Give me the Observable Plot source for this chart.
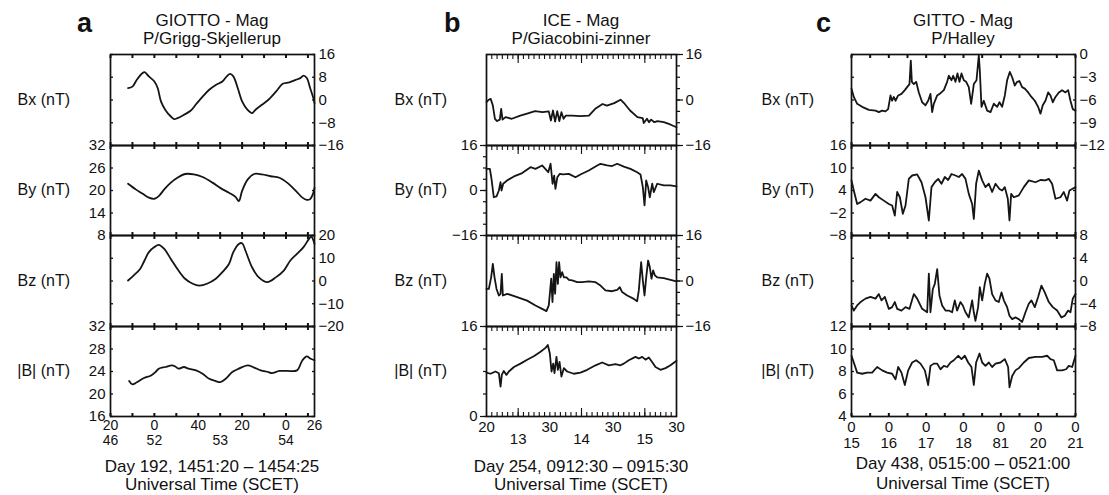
<!DOCTYPE html>
<html><head><meta charset="utf-8">
<script src="https://cdn.jsdelivr.net/npm/d3@7"></script>
<script src="https://cdn.jsdelivr.net/npm/@observablehq/plot@0.6"></script>
<style>
body{margin:0;background:#fff;}
#fig{position:relative;width:1109px;height:495px;overflow:hidden;font-family:"Liberation Sans",Arial,Helvetica,sans-serif;color:#111;}
.t{position:absolute;white-space:nowrap;}
.ttl{font-size:17px;line-height:18px;text-align:center;width:300px;}
.let{font-size:27px;line-height:27px;font-weight:bold;}
.ylab{font-size:16px;line-height:16px;text-align:right;width:90px;}
.cap{font-size:17px;line-height:18px;text-align:center;width:320px;}
</style></head>
<body><div id="fig"></div>
<script>
// ---------- Panel a : GIOTTO, P/Grigg-Skjellerup (t = seconds after 14:51:00) ----------
const aBxT = [36,40,44,49,51,55,60,63,66,70,75,78,81,87,93,98,104,110,116,122,126,129,132,136,140,145,149,152,158,164,171,177,183,189,193,196,199,202,205,206];
const aBxV = [4.2,4.7,7.1,9.4,9.8,8.3,6.5,4.2,-0.5,-3.5,-5.8,-6.7,-6.4,-5.2,-3.8,-1.5,1.2,3.6,5.3,6.5,8.3,9.2,8.3,4.2,-0.5,-3.5,-4.6,-3.5,-1.7,0.1,3.0,5.7,6.2,7.1,7.7,8.6,7.7,4.2,0.6,-1.1];
const aByT = [36,43,49,55,60,64,69,75,81,88,96,104,113,120,128,134,137,140,145,151,158,166,174,181,189,195,199,202,205,206];
const aByV = [21.8,20.3,19.2,18.1,17.8,18.5,20.3,22.1,23.4,24.4,24.3,23.6,22.1,20.7,19.4,18.3,17.2,19.9,22.9,24.4,24.3,23.8,23.4,22.1,19.9,18.1,17.5,17.7,19.4,20.7];
const aBzT = [36,41,47,51,55,60,64,69,75,81,88,95,101,108,116,122,128,132,137,140,143,149,155,163,171,178,184,190,196,201,203,206];
const aBzV = [0.2,2.4,5.3,9.0,12.7,14.9,15.9,14.1,9.7,5.3,1.0,-1.2,-2.0,-1.2,1.0,3.9,7.5,12.7,16.3,16.6,13.4,6.1,1.7,-0.5,1.7,4.6,9.0,11.9,14.9,18.5,19.5,16.3];
const aBmT = [37,40,44,50,57,61,64,70,76,79,82,87,91,98,104,110,116,120,125,131,137,145,151,157,164,167,174,181,190,195,199,202,206];
const aBmV = [22.3,21.7,22.1,22.8,23.3,23.9,24.5,24.8,25.1,24.9,24.5,24.8,24.5,24.2,23.6,22.7,22.3,22.1,22.7,23.9,24.5,25.1,24.7,24.2,23.9,23.7,24.1,24.1,24.2,26.0,26.7,26.3,26.0];

// ---------- Panel b : ICE, P/Giacobini-Zinner (t = seconds after 09:12:30) ----------
const bBxT = [0,2,4,6,8,10,12.6,13.9,15.2,18,24,32,40,46,53,59,61,63,65,67,69,71,73,75,81,89,97,103,110,114,121,127,131,136,143,148,149,152,154,156,159,162,168,174,180];
const bBxV = [-0.8,0.1,0.4,-1.9,-6.6,-7.4,-6.9,-3.1,-6.9,-6.0,-6.6,-5.5,-4.6,-3.9,-4.3,-4.0,-7.2,-3.7,-7.6,-3.9,-7.4,-4.3,-6.6,-5.5,-5.5,-5.7,-5.5,-3.1,-1.4,-2.0,-1.1,0.1,-1.4,-3.7,-6.0,-6.4,-8.1,-6.6,-7.8,-6.9,-7.8,-7.4,-7.8,-8.6,-9.6];
const bByT = [0,3.2,4.7,6.9,9.5,11.7,13.3,14.2,15.8,19.6,26,33.8,41.7,46.4,52.7,58.5,60.7,62.6,64.1,65.3,67.1,69.3,72.5,78,84.3,89,96.9,103.3,108,114.3,119,123.8,130.1,136.4,142.7,145.9,148.1,149.7,151.3,153.1,154.7,157,158.5,161.7,168,174.3,180];
const bByV = [7.7,7.7,4.2,-2.4,-2.1,0,3.0,0,2.4,3.6,5.0,6.2,8.3,7.7,8.9,6.5,9.5,2.4,5.3,0.6,4.7,5.9,5.7,5.9,4.7,5.7,7.1,8.5,9.5,8.9,8.7,9.5,8.5,7.7,6.5,5.7,1.2,-5.3,3.6,1.2,-2.4,2.4,-0.6,2.4,1.8,1.8,1.5];
const bBzT = [0,2.2,4.4,6,7.6,9.5,11.7,13.3,14.5,15.5,19.6,29,38.5,46.4,52.7,56.8,59,61.3,62.5,63.8,65,66.3,67.6,68.8,70.1,71.7,73.3,75.8,78,81.2,85.9,90.6,96.9,103.3,108,112.7,119,123.8,126.3,128.5,133.3,139.6,142.7,144.3,146.5,148.1,149.7,151.3,153.1,154.7,156.3,157.9,159.5,161.7,168,174.3,180];
const bBzV = [-2.8,-2.8,1.3,6.0,1.3,-2.8,-5.1,-4.5,2.5,-5.1,-4.5,-5.7,-6.9,-8.6,-9.8,-10.6,-8.6,0.8,-7.4,2.5,-4.5,6.6,-1.0,6.6,1.3,3.1,1.3,1.3,0.4,0.2,-0.4,-0.4,-0.1,-0.4,-1.6,-3.3,-3.6,-3.1,-2.2,-3.9,-5.1,-6.3,-7.1,-3.3,6.6,0.2,-5.1,1.3,7.2,4.9,0.8,3.7,2.0,1.3,1.0,0.4,-0.1];
const bBmT = [0,3.8,8.5,11.7,13.3,14.5,16.4,18.9,21.2,26,32.2,38.5,44.8,51.2,55.9,58.1,60,61.6,63.2,64.4,66.3,67.6,69.2,71,73.3,76.4,82.7,89,95.4,103.3,109.6,115.9,122.2,126.9,130.1,134.8,141.1,144.3,147.5,150.6,153.8,156.9,160.1,164.8,169.6,174.3,180];
const bBmV = [7.8,7.6,8.0,7.7,5.3,7.4,8.1,7.4,8.0,8.8,9.4,10.1,10.7,11.5,12.2,12.7,11.2,8.0,9.4,7.7,10.6,8.3,9.7,7.1,8.6,8.0,7.6,7.8,8.3,9.1,9.6,9.1,9.3,9.1,9.4,10.0,10.6,10.3,10.6,10.1,10.5,9.7,8.8,8.3,8.6,9.1,9.9];

// ---------- Panel c : GIOTTO, P/Halley (t = seconds after 05:15:00) ----------
const cBxT = [0,3.7,9.1,17.1,27.9,38.6,43.9,49.3,54.6,58.9,62.7,65.3,68,70.7,75,80.3,85.7,89.4,93.2,95.3,97,100.2,103.9,108.2,113.5,118.9,123.2,126.9,129.6,132.3,137.7,143,148.4,153.7,156.4,160.7,163.4,167.1,170.3,173.5,176.8,180.5,184.3,188.5,192.3,196.6,200.9,204.6,206.2,208.9,212.6,218,223.4,228.7,234.1,237.8,242.1,246.4,250.1,254.4,258.2,262.4,266.2,269.9,274.2,278.5,283.9,289.2,294.6,299.9,303.7,307.4,311.7,316,319.8,323.5,327.8,333.2,338.5,343.9,348.2,351.9,355.6,360];
const cBxV = [-4.5,-5.6,-6.5,-6.9,-7.3,-7.4,-7.6,-7.4,-7.5,-7.2,-5.4,-6.1,-5.6,-6.1,-5.4,-5.2,-4.7,-4.3,-3.9,-0.8,-3.6,-3.9,-3.6,-5.0,-6.3,-6.7,-6.1,-5.2,-7.6,-6.5,-5.4,-5.1,-4.7,-3.6,-2.8,-3.4,-2.8,-3.6,-2.5,-3.6,-2.5,-3.4,-3.6,-4.3,-6.5,-3.9,-3.4,-0.1,-2.1,-6.9,-6.1,-7.4,-7.6,-6.5,-6.9,-6.3,-6.9,-5.4,-3.4,-2.3,-3.0,-4.1,-3.6,-3.5,-4.3,-4.5,-5.0,-5.6,-6.1,-6.9,-7.8,-6.7,-6.1,-5.0,-5.4,-6.3,-5.6,-5.0,-4.7,-5.0,-4.7,-6.1,-7.2,-7.4];
const cByT = [0,3.7,9.1,14.5,22.5,30.5,38.6,43.9,52,60,65.3,69.6,73.4,77.7,82.5,86.8,92.1,97.5,105.5,112.5,118.9,124.3,128.5,133.9,139.3,144.6,150,155.3,160.7,167.1,172.5,177.8,183.2,188.5,193.9,196.6,200.3,204.6,210,215.3,220.7,226,231.4,237.8,242.1,246.4,251.2,253.9,256.6,260.8,268.9,276.9,285,295.7,303.7,311.7,317.1,322.4,327.8,335.8,341.2,346.5,350.3,354.6,360];
const cByV = [6.7,4.0,0.4,0.9,1.8,1.3,3.1,2.2,1.3,0.4,0.0,-2.7,3.6,2.2,-2.2,0.0,7.1,8.0,8.3,6.2,2.2,-4.0,4.9,6.2,7.1,5.8,7.6,6.8,8.4,8.0,7.6,8.4,7.1,3.1,0.4,-3.6,5.8,9.3,6.7,4.9,5.8,3.6,5.8,4.4,4.0,4.9,1.8,-4.0,3.1,2.2,2.7,4.9,6.7,6.2,6.8,6.7,7.1,5.8,1.8,2.2,3.6,1.3,4.0,4.4,4.9];
const cBzT = [0,3.7,9.1,14.5,22.5,30.5,38.6,43.9,48.2,53.6,60,65.3,69.6,73.4,80.3,86.8,93.2,100.2,105.5,113.5,121.6,124.3,126.9,130.7,133.9,137.7,141.4,145.7,151,156.4,161.7,166,169.7,175.1,178.9,183.2,188.5,193.9,196.6,199.2,203.5,206.2,210,214.2,218,221.7,226,231.4,236.7,241,244.8,250.1,253.9,258.2,263.5,268.8,274.2,279.6,284.9,289.2,294.6,299.9,305.3,310.6,317.1,323.5,330.5,337.4,342.8,348.1,351.9,355.6,360];
const cBzV = [-4.3,-5.2,-4.3,-3.7,-3.1,-2.8,-3.1,-2.3,-3.4,-2.8,-4.9,-4.6,-3.7,-4.9,-5.2,-4.6,-4.9,-2.3,-3.1,-4.9,-5.5,1.3,-5.5,-1.4,-0.5,2.1,-2.6,-4.3,-5.2,-5.2,-5.5,-3.4,-5.2,-3.7,-4.3,-5.5,-6.4,-3.4,-5.5,-7.0,-4.6,-1.1,-3.4,-0.5,1.3,0.4,-2.3,-3.4,-3.7,-2.0,-3.4,-4.6,-6.1,-6.7,-6.4,-6.7,-7.2,-5.5,-4.0,-3.4,-4.6,-2.8,-0.8,-2.0,-3.7,-4.6,-5.2,-6.4,-6.1,-5.2,-5.5,-3.1,-2.3];
const cBmT = [0,3.7,9.1,17.1,25.1,33.2,41.2,49.3,57.3,65.3,70.7,75,80.3,85.7,91.1,97.5,103.9,110.9,117.9,123.2,126.9,132.3,137.7,143,148.4,153.7,159.1,164.5,171.4,176.8,182.1,187.5,192.8,196.6,200.3,205.7,210,215.3,220.7,226,231.4,239.4,246.4,251.7,253.9,258.2,263.5,268.9,276.9,285,295.7,306.4,314.4,319.8,325.1,330.5,338.5,344.9,349.2,354.6,360];
const cBmV = [9.4,8.8,7.9,7.8,7.9,7.9,8.4,8.1,7.9,7.8,7.3,8.4,7.9,6.8,8.1,8.8,9.0,8.7,8.1,6.8,8.5,8.7,8.7,8.2,8.5,8.4,8.8,9.0,9.4,9.1,9.4,8.8,8.4,6.8,8.8,9.6,8.8,8.5,8.8,8.4,8.7,8.8,9.1,8.4,6.6,7.6,8.1,8.3,8.8,9.2,9.3,9.3,9.4,9.1,9.0,8.1,8.1,8.2,8.5,8.4,9.4];

// ---------- Axis tick values and labels ----------
const compLabels = ["Bx (nT)", "By (nT)", "Bz (nT)", "|B| (nT)"];
const aYTicks = [[16,8,0,-8,-16],[32,26,20,14,8],[20,10,0,-10,-20],[32,28,24,20,16]];
const bYTicks = [[16,0,-16],[16,0,-16],[16,0,-16],[16,0]];
const cYTicks = [[0,-3,-6,-9,-12],[16,10,4,-2,-8],[8,4,0,-4,-8],[12,10,8,6,4]];
const aXRow1 = [20,60,100,140,180,206], aXRow1Lab = ["20","0","40","20","0","26"];
const aXRow2 = [20,60,120,180],         aXRow2Lab = ["46","52","53","54"];
const bXRow1 = [0,60,120,180],          bXRow1Lab = ["20","30","30","30"];
const bXRow2 = [30,90,150],             bXRow2Lab = ["13","14","15"];
const cXRow1 = [0,60,120,180,240,300,360], cXRow1Lab = ["0","0","0","0","0","0","0"];
const cXRow2 = [0,60,120,180,240,300,360], cXRow2Lab = ["15","16","17","18","81","20","21"];

const FONT = '"Liberation Sans", Arial, Helvetica, sans-serif';
const rowY = [54, 145, 235, 326, 416];

const panels = [
  { letter:"a", letterX:77, x0:110, x1:314, titles:["GIOTTO - Mag","P/Grigg-Skjellerup"],
    caps:["Day 192, 1451:20 \u2013 1454:25","Universal Time (SCET)"], capBase:[473,491], labRight:70,
    xDomain:[20,206], minorX:d3.range(20,206,20), majorX:[], xStyle:"cross", yOut:false, curve:"catmull-rom",
    row1:[aXRow1,aXRow1Lab], row2:[aXRow2,aXRow2Lab], dy:[13,28], xfs:14,
    series:[
      {t:aBxT,v:aBxV,domain:[-16,16],labels:aYTicks[0]},
      {t:aByT,v:aByV,domain:[8,32],labels:aYTicks[1]},
      {t:aBzT,v:aBzV,domain:[-20,20],labels:aYTicks[2]},
      {t:aBmT,v:aBmV,domain:[16,32],labels:aYTicks[3]}]},
  { letter:"b", letterX:444, x0:486, x1:676, titles:["ICE - Mag","P/Giacobini-zinner"],
    caps:["Day 254, 0912:30 \u2013 0915:30","Universal Time (SCET)"], capBase:[473,491], labRight:447,
    xDomain:[0,180], minorX:d3.range(0,181,5), majorX:[30,90,150], xStyle:"hang", yOut:true, curve:"linear",
    row1:[bXRow1,bXRow1Lab], row2:[bXRow2,bXRow2Lab], dy:[15,27], xfs:15,
    series:[
      {t:bBxT,v:bBxV,domain:[-16,16],labels:bYTicks[0],minor:d3.range(-16,17,4)},
      {t:bByT,v:bByV,domain:[-16,16],labels:bYTicks[1],minor:d3.range(-16,17,4)},
      {t:bBzT,v:bBzV,domain:[-16,16],labels:bYTicks[2],minor:d3.range(-16,17,4)},
      {t:bBmT,v:bBmV,domain:[0,16],labels:bYTicks[3],minor:d3.range(0,17,4)}]},
  { letter:"c", letterX:816, x0:851, x1:1075, titles:["GITTO - Mag","P/Halley"],
    caps:["Day 438, 0515:00 \u2013 0521:00","Universal Time (SCET)"], capBase:[470,490], labRight:814,
    xDomain:[0,360], minorX:d3.range(0,361,30), majorX:[], xStyle:"cross", yOut:false, curve:"linear",
    row1:[cXRow1,cXRow1Lab], row2:[cXRow2,cXRow2Lab], dy:[15,31], xfs:15,
    series:[
      {t:cBxT,v:cBxV,domain:[-12,0],labels:cYTicks[0]},
      {t:cByT,v:cByV,domain:[-8,16],labels:cYTicks[1]},
      {t:cBzT,v:cBzV,domain:[-8,8],labels:cYTicks[2]},
      {t:cBmT,v:cBmV,domain:[4,12],labels:cYTicks[3]}]}
];

const fig = document.getElementById("fig");
const fmt = d => d < 0 ? "\u2212" + Math.abs(d) : String(d);
const blank = () => "";

function addDiv(cls, text, left, top) {
  const el = document.createElement("div");
  el.className = "t " + cls;
  el.textContent = text;
  el.style.left = left + "px";
  el.style.top = top + "px";
  fig.appendChild(el);
}

function buildRow(p, r) {
  const y0 = rowY[r], y1 = rowY[r + 1];
  const last = r === 3;
  const ML = 50, MR = 50, MT = 10, MB = last ? 45 : 10;
  const W = p.x1 - p.x0, H = y1 - y0;
  const s = p.series[r];
  const side = r % 2 === 0 ? "right" : "left";
  const other = side === "right" ? "left" : "right";
  const n = Math.min(s.t.length, s.v.length);
  const data = s.t.slice(0, n).map((t, i) => ({t, v: s.v[i]}));
  const marks = [];
  if (p.yOut) {
    marks.push(Plot.axisY(s.minor, {anchor: side, tickSize: 3, tickFormat: blank, label: null, strokeWidth: 1.2}));
    marks.push(Plot.axisY(s.labels, {anchor: side, tickSize: 6, tickPadding: 3, tickFormat: fmt, fontSize: 15, label: null, strokeWidth: 1.2}));
  } else {
    marks.push(Plot.axisY(s.labels, {anchor: side, tickSize: -3, tickPadding: side === "right" ? 7 : 8, tickFormat: fmt, fontSize: 15, label: null, strokeWidth: 1.3}));
    marks.push(Plot.axisY(s.labels, {anchor: other, tickSize: -3, tickFormat: blank, label: null, strokeWidth: 1.3}));
  }
  if (p.xStyle === "cross") {
    marks.push(Plot.axisX(p.minorX, {anchor: "top", tickSize: -3, tickFormat: blank, label: null, strokeWidth: 2}));
    marks.push(Plot.axisX(p.minorX, {anchor: "bottom", tickSize: -3, tickFormat: blank, label: null, strokeWidth: 2}));
  } else {
    marks.push(Plot.axisX(p.minorX, {anchor: "top", tickSize: -4, tickFormat: blank, label: null, strokeWidth: 1.1}));
    marks.push(Plot.axisX(p.majorX, {anchor: "top", tickSize: -8, tickFormat: blank, label: null, strokeWidth: 1.1}));
    if (last) {
      marks.push(Plot.axisX(p.minorX, {anchor: "bottom", tickSize: -4, tickFormat: blank, label: null, strokeWidth: 1.1}));
      marks.push(Plot.axisX(p.majorX, {anchor: "bottom", tickSize: -8, tickFormat: blank, label: null, strokeWidth: 1.1}));
    }
  }
  marks.push(Plot.frame({stroke: "#111", strokeWidth: 1.7}));
  marks.push(Plot.line(data, {x: "t", y: "v", stroke: "#151515", strokeWidth: 1.8, curve: p.curve}));
  if (last) {
    marks.push(Plot.text(p.row1[0], {x: d => d, text: (d, i) => p.row1[1][i], frameAnchor: "bottom", dy: p.dy[0], fontSize: p.xfs, fill: "#111"}));
    marks.push(Plot.text(p.row2[0], {x: d => d, text: (d, i) => p.row2[1][i], frameAnchor: "bottom", dy: p.dy[1], fontSize: p.xfs, fill: "#111"}));
  }
  const svg = Plot.plot({
    width: W + ML + MR, height: H + MT + MB,
    marginLeft: ML, marginRight: MR, marginTop: MT, marginBottom: MB,
    x: {domain: p.xDomain}, y: {domain: s.domain},
    style: {background: "transparent", overflow: "visible", fontFamily: FONT, color: "#111"},
    marks
  });
  svg.style.position = "absolute";
  svg.style.left = (p.x0 - ML) + "px";
  svg.style.top = (y0 - MT) + "px";
  svg.style.maxWidth = "none";
  fig.appendChild(svg);

  addDiv("ylab", compLabels[r], p.labRight - 90, (y0 + y1) / 2 - 8);
}

for (const p of panels) {
  for (let r = 0; r < 4; r++) buildRow(p, r);
  const cx = (p.x0 + p.x1) / 2;
  addDiv("ttl", p.titles[0], cx - 150, 12);
  addDiv("ttl", p.titles[1], cx - 150, 30);
  addDiv("let", p.letter, p.letterX, 10);
  addDiv("cap", p.caps[0], cx - 160, p.capBase[0] - 15);
  addDiv("cap", p.caps[1], cx - 160, p.capBase[1] - 15);
}
</script></body></html>
